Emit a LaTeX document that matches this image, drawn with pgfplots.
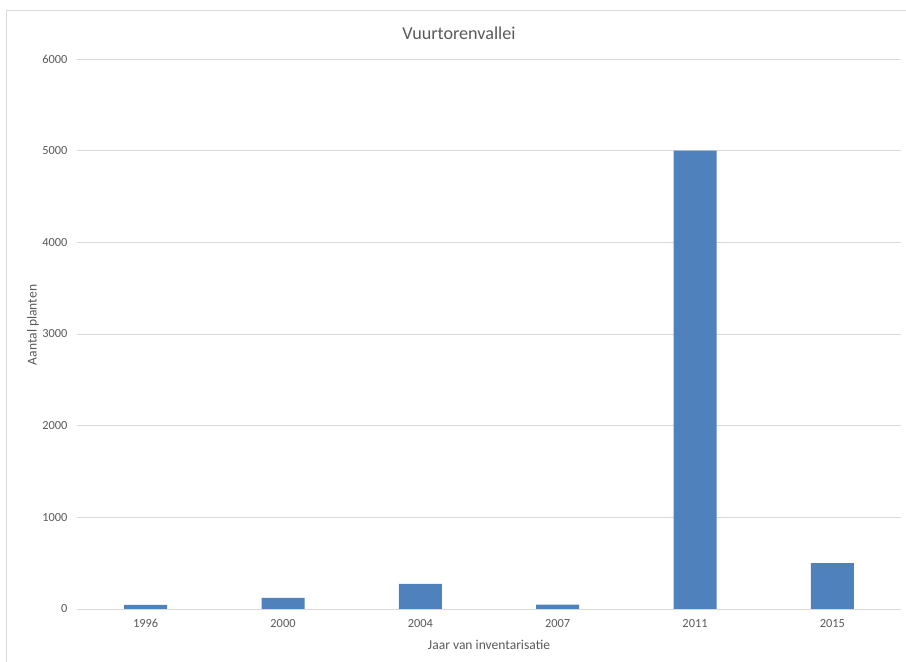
\documentclass[border=0pt]{standalone}
\usepackage{fontspec}
\setmainfont{Carlito}
\usepackage{pgfplots}
\pgfplotsset{compat=1.18}
\definecolor{barblue}{RGB}{79,129,189}
\definecolor{gridgray}{RGB}{217,217,217}
\definecolor{textgray}{RGB}{89,89,89}
\begin{document}
\begin{tikzpicture}[x=1bp,y=1bp]
\path[use as bounding box] (0,0) rectangle (906,662);
% chart area outline
\draw[gridgray, line width=0.75bp] (6.5,0) -- (6.5,651.5) -- (906,651.5);
% title
\node[text=textgray, font=\fontsize{18.2}{21}\selectfont] at (459,629) {Vuurtorenvallei};
% vertical axis title
\node[text=textgray, font=\fontsize{13.6}{16}\selectfont, rotate=90] at (33,337) {Aantal planten};
\begin{axis}[
  at={(77bp,53bp)}, anchor=south west,
  scale only axis, width=824bp, height=550bp,
  xmin=-0.5, xmax=5.5, ymin=0, ymax=6000,
  ytick={0,1000,...,6000},
  xtick=data,
  xticklabels={1996,2000,2004,2007,2011,2015},
  axis x line=bottom, axis y line=left,
  x axis line style={gridgray, line width=0.75bp, -},
  y axis line style={draw=none, -},
  ymajorgrids, grid style={gridgray, line width=0.75bp},
  major tick length=0pt,
  /pgf/number format/assume math mode=true,
  /pgf/number format/1000 sep={},
  tick label style={text=textgray, font=\fontsize{12.4}{14}\selectfont},
  yticklabel style={xshift=-6bp},
  xticklabel style={yshift=-7bp},
  xlabel={Jaar van inventarisatie},
  label style={text=textgray, font=\fontsize{13.6}{16}\selectfont},
  xlabel style={at={(axis description cs:0.5,0)}, anchor=center, yshift=-36bp},
  clip=false,
]
\addplot[ybar, bar width=43bp, fill=barblue, draw=none] coordinates {
  (0,45) (1,122) (2,275) (3,47) (4,5000) (5,500)
};
\end{axis}
\end{tikzpicture}
\end{document}
